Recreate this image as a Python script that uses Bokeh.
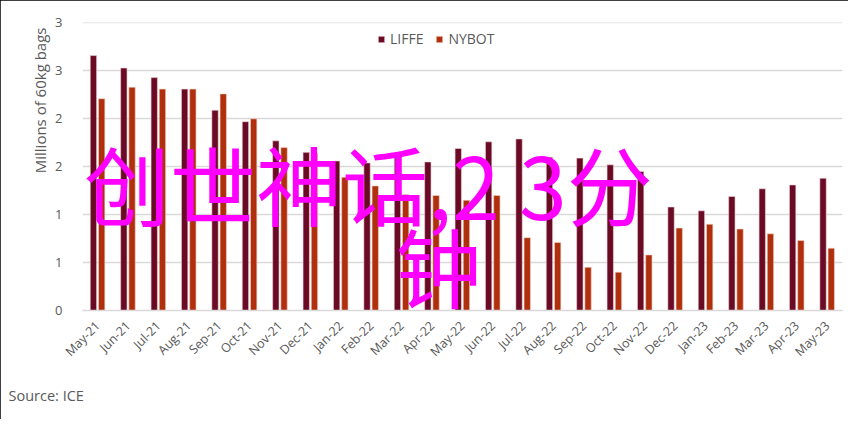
from math import pi
from bokeh.plotting import figure
from bokeh.models import (ColumnDataSource, FactorRange, Range1d, FixedTicker,
                          Label, Legend, LegendItem, Title)
from bokeh.transform import dodge
from bokeh.embed import file_html
from bokeh.resources import INLINE

months = ["May-21", "Jun-21", "Jul-21", "Aug-21", "Sep-21", "Oct-21", "Nov-21",
          "Dec-21", "Jan-22", "Feb-22", "Mar-22", "Apr-22", "May-22", "Jun-22",
          "Jul-22", "Aug-22", "Sep-22", "Oct-22", "Nov-22", "Dec-22", "Jan-23",
          "Feb-23", "Mar-23", "Apr-23", "May-23"]
liffe = [2.66, 2.53, 2.43, 2.31, 2.09, 1.97, 1.77, 1.65, 1.56, 1.54, 1.63, 1.55,
         1.69, 1.76, 1.79, 1.60, 1.59, 1.52, 1.45, 1.08, 1.04, 1.19, 1.27, 1.31, 1.38]
nybot = [2.21, 2.33, 2.31, 2.31, 2.26, 2.00, 1.70, 1.64, 1.39, 1.30, 1.21, 1.20,
         1.15, 1.20, 0.76, 0.71, 0.45, 0.40, 0.58, 0.86, 0.90, 0.85, 0.80, 0.73, 0.65]
y_ticks = [0, 0.5, 1.0, 1.5, 2.0, 2.5, 3.0]
y_tick_labels = ["0", "1", "1", "2", "2", "3", "3"]
series_names = ["LIFFE", "NYBOT"]
y_title = "Millions of 60kg bags"
source_text = "Source: ICE"
overlay_line1 = "创世神话,2 3分"
overlay_line2 = "钟"

LIFFE_COLOR = "#6b0a24"
NYBOT_COLOR = "#b0300e"
TXT = "#595959"
FONT = "Open Sans"
CJK = "Noto Sans CJK SC"

src = ColumnDataSource(dict(month=months, liffe=liffe, nybot=nybot))

p = figure(width=848, height=419, output_backend="svg", toolbar_location=None,
           x_range=FactorRange(factors=months, range_padding=0, factor_padding=0),
           y_range=Range1d(0, 3.005),
           min_border_left=82, min_border_right=6, min_border_top=22,
           min_border_bottom=105)
p.styles = {"outline": "2px solid black", "outline-offset": "-2px"}
p.outline_line_color = None
p.background_fill_color = "white"
p.border_fill_color = "white"

r1 = p.vbar(x=dodge("month", -0.14, range=p.x_range), top="liffe", width=0.21,
            source=src, fill_color=LIFFE_COLOR, line_color="#f0d8dc", line_width=0.6)
r2 = p.vbar(x=dodge("month", 0.13, range=p.x_range), top="nybot", width=0.21,
            source=src, fill_color=NYBOT_COLOR, line_color="#f2d6cc", line_width=0.6)

p.xgrid.grid_line_color = None
p.ygrid.grid_line_color = "#d9d9d9"
p.ygrid.grid_line_width = 1.6
p.yaxis.ticker = FixedTicker(ticks=y_ticks)
p.yaxis.major_label_overrides = {t: l for t, l in zip(y_ticks, y_tick_labels)}
p.yaxis.axis_line_color = None
p.yaxis.major_tick_line_color = None
p.yaxis.minor_tick_line_color = None
p.yaxis.major_label_standoff = 14
p.yaxis.major_label_text_font = FONT
p.yaxis.major_label_text_font_size = "13px"
p.yaxis.major_label_text_color = TXT

p.xaxis.axis_line_color = "#d9d9d9"
p.xaxis.axis_line_width = 1.6
p.xaxis.major_tick_line_color = None
p.xaxis.minor_tick_line_color = None
p.xaxis.major_label_orientation = pi / 4
p.xaxis.major_label_standoff = 7
p.xaxis.major_label_text_font = FONT
p.xaxis.major_label_text_font_size = "12.5px"
p.xaxis.major_label_text_color = TXT

# y-axis title, placed at the top end of the axis
p.add_layout(Title(text=y_title, align="right", offset=5, standoff=5,
                   text_font=FONT, text_font_size="15px", text_font_style="normal",
                   text_color=TXT), "left")

# source note under the category labels, at the left edge
p.add_layout(Title(text=source_text, align="left", offset=-74, standoff=30,
                   text_font=FONT, text_font_size="14.5px", text_font_style="normal",
                   text_color=TXT), "below")

# legend kept inside the plot area (above the bars)
legend = Legend(items=[LegendItem(label=series_names[0], renderers=[r1]),
                       LegendItem(label=series_names[1], renderers=[r2])],
                location=(295, 262), orientation="horizontal",
                glyph_width=8, glyph_height=8, label_height=14,
                label_standoff=5, spacing=12, padding=0, margin=0,
                border_line_color=None, background_fill_alpha=0,
                label_text_font=FONT, label_text_font_size="14px",
                label_text_color=TXT)
p.add_layout(legend, "center")

p.add_layout(Label(x=0.05, y=1.336, text=overlay_line1, text_align="left",
                   text_baseline="middle", text_font=CJK,
                   text_font_size="86px", text_color="#ff00ff"))
p.add_layout(Label(x=10.3, y=0.483, text=overlay_line2, text_align="left",
                   text_baseline="middle", text_font=CJK,
                   text_font_size="86px", text_color="#ff00ff"))

open("out.html", "w").write(file_html(p, INLINE))
